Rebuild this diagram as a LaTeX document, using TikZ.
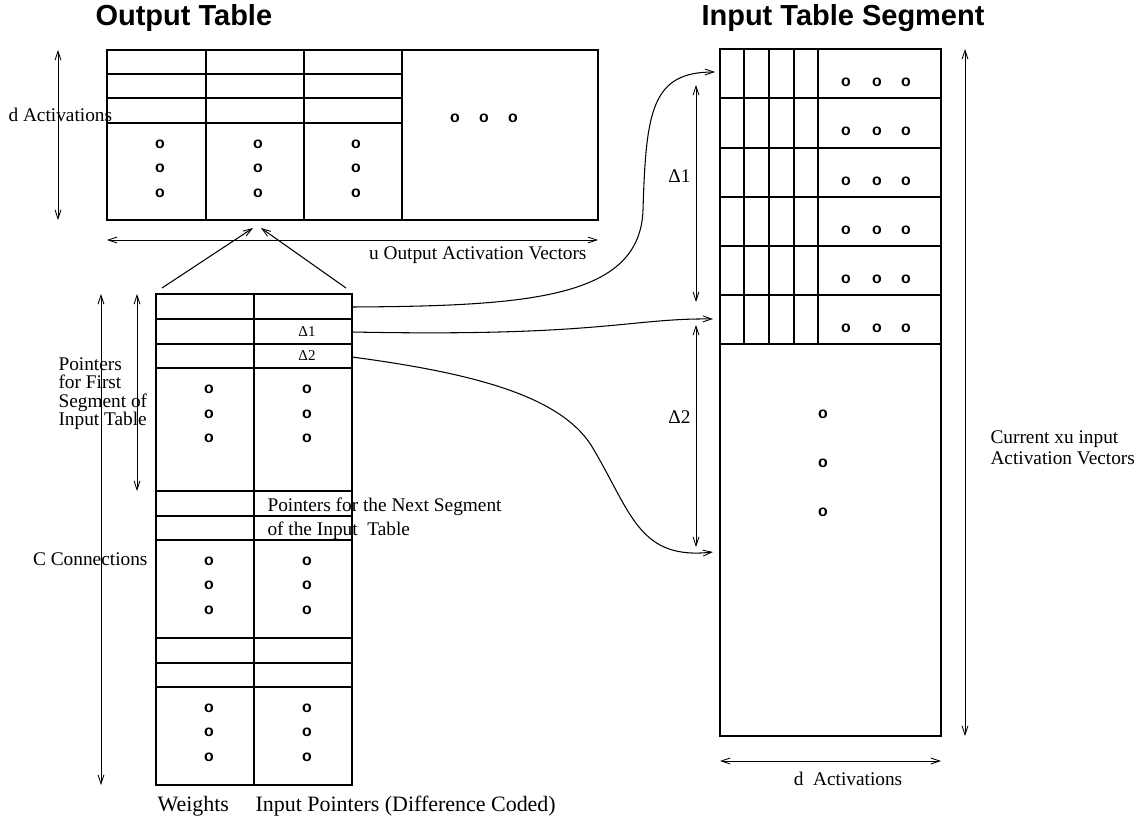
\documentclass[tikz,border=0pt]{standalone}
\usepackage{fontspec}
\setmainfont{Liberation Serif}
\newfontfamily\headfont{Liberation Sans}
\usepackage{tikz}
\usetikzlibrary{arrows.meta,positioning}
\tikzset{>/.tip={Straight Barb[length=5pt,width=3.4pt,line width=0.5pt]}}
\tikzset{dotsym/.style={inner sep=0pt,font=\headfont\bfseries\fontsize{9}{9}\selectfont}}

\begin{document}
\begin{tikzpicture}[x=0.02cm,y=-0.02cm,line width=0.6pt,
    lbl/.style={inner sep=0pt,font=\fontsize{11}{10.5}\selectfont},
    biglbl/.style={inner sep=0pt,font=\fontsize{12.5}{13}\selectfont},
    small/.style={inner sep=0pt,font=\fontsize{8.5}{9}\selectfont},
    title/.style={inner sep=0pt,anchor=base west,font=\headfont\bfseries\fontsize{16.5}{18}\selectfont},
    dim/.style={<->,line width=0.5pt},
    ptr/.style={->,line width=0.6pt}]
      \useasboundingbox (0,0) rectangle (1146,821);

      \node[title](OutTitle) at (95,25.5){Output Table};
      \node[title](InTitle) at (701,25.5){Input Table Segment};

      % output table
      \draw (107,50) rectangle (598,220);
      \foreach \x in {206,304,402} \draw (\x,50) -- (\x,220);
      \foreach \y in {74,98,123} \draw (107,\y) -- (402,\y);
      \foreach \x[count=\i] in {160,258,356}
        \foreach \y[count=\j] in {144,168,193}
          \node[dotsym](Od\i\j) at (\x,\y){o};
      \foreach \x[count=\i] in {455,484,513}
        \node[dotsym](Oh\i) at (\x,118){o};
      \coordinate (OutTip1) at (253,228);
      \coordinate (OutTip2) at (261,228);

      \draw[dim] (58,50) -- (58,220);
      \node[lbl,anchor=base west](dActOut) at (8,122){d Activations};
      \draw[dim] (107,240) -- (598,240);
      \node[lbl,anchor=base east](uVec) at (587,259){u Output Activation Vectors};

      % connection table
      \draw (156,294) rectangle (352,785);
      \draw (254,294) -- (254,785);
      \foreach \y in {319,344,368,491,516,540,638,663,687} \draw (156,\y) -- (352,\y);
      \foreach \x[count=\i] in {209,307}
        \foreach \y[count=\j] in {389,414,438,561,585,610,708,732,757}
          \node[dotsym](Cd\i\j) at (\x,\y){o};
      \node[small](D1) at (307,332){Δ1};
      \node[small](D2) at (307,356){Δ2};
      \coordinate (CLeft) at (162,288);
      \coordinate (CRight) at (346,288);
      \coordinate (Row1) at (352,307);
      \coordinate (Row2) at (352,332);
      \coordinate (Row3) at (352,357);
      \draw[ptr] (CLeft) -- (OutTip1);
      \draw[ptr] (CRight) -- (OutTip2);

      \draw[dim] (101,294) -- (101,785);
      \draw[dim] (137,294) -- (137,491);
      \node[lbl,anchor=north west,align=left](PtrFirst) at (58,357){Pointers\\for First\\Segment of\\Input Table};
      \node[lbl,anchor=base east](CConn) at (148,565){C Connections};
      \node[lbl,anchor=base west](PtrNext) at (267,511){Pointers for the Next Segment};
      \node[lbl,anchor=base west](PtrNext2) at (267,535){of the Input\ \ Table};
      \node[biglbl,anchor=base west](Wts) at (157,811){Weights};
      \node[biglbl,anchor=base west](InPtr) at (255,811){Input Pointers (Difference Coded)};

      % input table segment
      \draw (720,49) rectangle (941,736);
      \foreach \x in {744,769,794,818} \draw (\x,49) -- (\x,344);
      \foreach \y in {98,148,197,246,295,344} \draw (720,\y) -- (941,\y);
      \foreach \y[count=\j] in {82,131,181,230,279,328}
        \foreach \x[count=\i] in {846,877,906}
          \node[dotsym](Id\j\i) at (\x,\y){o};
      \foreach \y[count=\j] in {414,463,512}
        \node[dotsym](Iv\j) at (823,\y){o};
      \coordinate (InTip1) at (715,72);
      \coordinate (InTip2) at (713,319);
      \coordinate (InTip3) at (713,552);

      \draw[dim] (965,49) -- (965,736);
      \node[lbl,anchor=base west](CurVec) at (990,443){Current xu input};
      \node[lbl,anchor=base west](CurVec2) at (990,464){Activation Vectors};
      \draw[dim] (720,761) -- (941,761);
      \node[lbl,anchor=base](dActIn) at (848,785){d\ \ Activations};

      \draw[dim] (696,85) -- (696,302);
      \node[lbl,anchor=east](Delta1) at (691,176){Δ1};
      \draw[dim] (696,325) -- (696,547);
      \node[lbl,anchor=east](Delta2) at (691,417){Δ2};

      \draw[ptr] (Row1) .. controls (530,306) and (640,298) .. (643,210)
        .. controls (646,110) and (652,72) .. (InTip1);
      \draw[ptr] (Row2) .. controls (600,337) and (630,318) .. (InTip2);
      \draw[ptr] (Row3) .. controls (480,374) and (565,398) .. (594,450)
        .. controls (632,515) and (640,560) .. (InTip3);
\end{tikzpicture}
\end{document}
